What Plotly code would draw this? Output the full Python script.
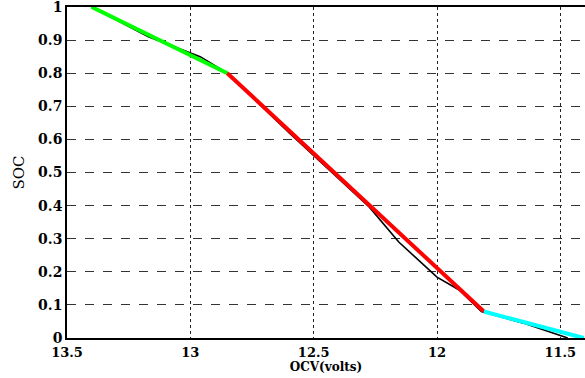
import plotly.graph_objects as go

# measured curve (black)
ocv_measured = [13.40, 13.17, 12.96, 12.85, 12.60, 12.275, 12.155, 12.00, 11.91, 11.82, 11.65, 11.47]
soc_measured = [1.00, 0.91, 0.85, 0.80, 0.62, 0.396, 0.29, 0.184, 0.145, 0.08, 0.045, 0.0]

# piecewise linear fit segments
ocv_seg1 = [13.40, 12.85]
soc_seg1 = [1.00, 0.80]
ocv_seg2 = [12.85, 11.81]
soc_seg2 = [0.80, 0.08]
ocv_seg3 = [11.81, 11.405]
soc_seg3 = [0.08, 0.0]

x_ticks = [13.5, 13, 12.5, 12, 11.5]
x_tick_labels = ["13.5", "13", "12.5", "12", "11.5"]
y_ticks = [0, 0.1, 0.2, 0.3, 0.4, 0.5, 0.6, 0.7, 0.8, 0.9, 1]
y_tick_labels = ["0", "0.1", "0.2", "0.3", "0.4", "0.5", "0.6", "0.7", "0.8", "0.9", "1"]

fig = go.Figure()
fig.add_trace(go.Scatter(x=ocv_measured, y=soc_measured, mode="lines",
                         line=dict(color="black", width=1.6), showlegend=False))
fig.add_trace(go.Scatter(x=ocv_seg1, y=soc_seg1, mode="lines",
                         line=dict(color="#00ff00", width=4), showlegend=False))
fig.add_trace(go.Scatter(x=ocv_seg2, y=soc_seg2, mode="lines",
                         line=dict(color="#ff0000", width=4), showlegend=False))
fig.add_trace(go.Scatter(x=ocv_seg3, y=soc_seg3, mode="lines",
                         line=dict(color="#00ffff", width=4), showlegend=False))

font_tick = dict(family="DejaVu Serif", size=14, color="black", weight="bold")

fig.update_layout(
    width=585, height=378,
    margin=dict(l=67, r=0, t=7, b=40, autoexpand=False),
    paper_bgcolor="white", plot_bgcolor="white",
    xaxis=dict(range=[13.5, 11.4], autorange=False, automargin=False,
               tickvals=x_ticks, ticktext=x_tick_labels,
               tickfont=dict(family="DejaVu Serif", size=13, color="black", weight="bold"),
               ticklabeloverflow="allow", ticklabelstandoff=2,
               showgrid=True, gridcolor="#222222", gridwidth=1,
               griddash="dot", showline=True, linecolor="black", linewidth=1.5,
               mirror=True, zeroline=False, ticks="", ticklen=0,
               title=dict(text="OCV(volts)",
                          font=dict(family="DejaVu Serif", size=12, color="black", weight="bold"),
                          standoff=0)),
    yaxis=dict(range=[0, 1], autorange=False, automargin=False,
               tickvals=y_ticks, ticktext=y_tick_labels,
               tickfont=font_tick, ticklabeloverflow="allow",
               showgrid=True, gridcolor="#333333", gridwidth=1,
               griddash="dash", showline=True, linecolor="black", linewidth=1.5,
               zeroline=False, ticks="", ticklen=0,
               title=dict(text="SOC", font=dict(family="DejaVu Serif", size=15, color="black"),
                          standoff=10)),
)

fig.write_html("out.html", config={"displayModeBar": False},
               post_script="document.body.style.margin='0';document.body.style.overflow='hidden';")
